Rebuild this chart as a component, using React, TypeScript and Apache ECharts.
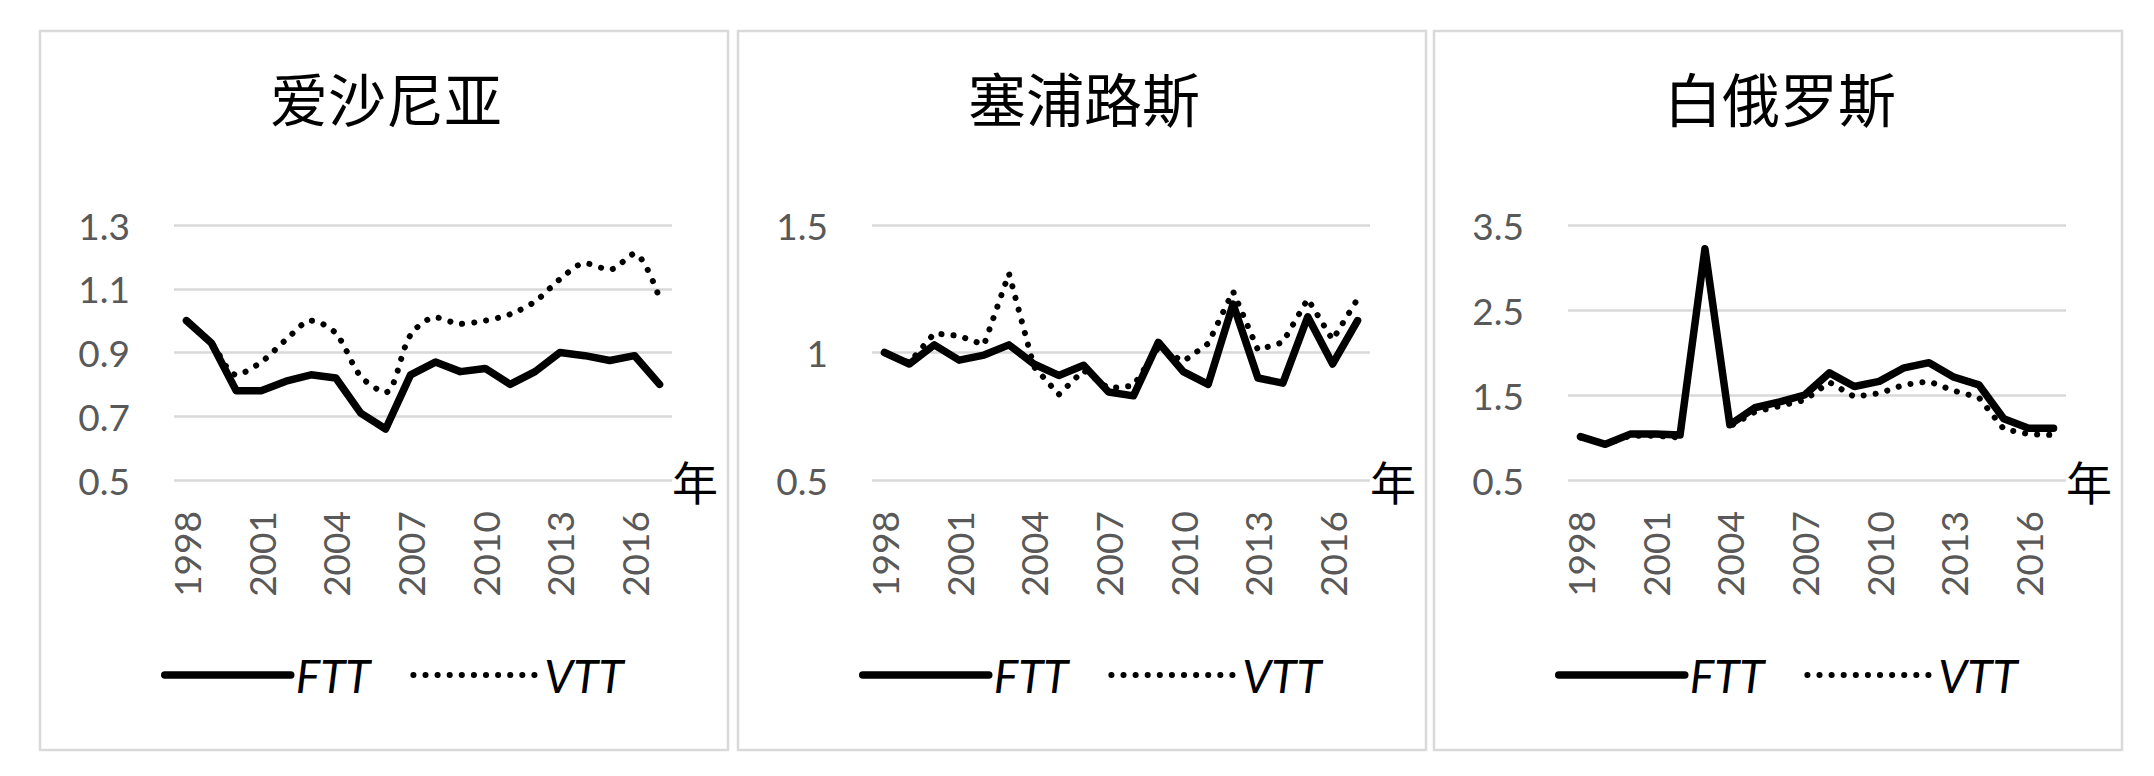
import React, { useEffect, useRef } from 'react';
import * as echarts from 'echarts';

// ---------- data ----------
const years = [
  '1998', '1999', '2000', '2001', '2002', '2003', '2004', '2005', '2006', '2007',
  '2008', '2009', '2010', '2011', '2012', '2013', '2014', '2015', '2016', '2017',
];
const seriesNames = ['FTT', 'VTT'];
const panelTitles = ['爱沙尼亚', '塞浦路斯', '白俄罗斯'];
const xAxisName = '年';

const estoniaFTT = [1.0, 0.93, 0.78, 0.78, 0.81, 0.83, 0.82, 0.71, 0.66, 0.83, 0.87, 0.84, 0.85, 0.8, 0.84, 0.9, 0.89, 0.875, 0.89, 0.8];
const estoniaVTT = [1.0, 0.93, 0.83, 0.87, 0.94, 1.0, 0.96, 0.825, 0.775, 0.955, 1.01, 0.99, 1.0, 1.02, 1.06, 1.13, 1.18, 1.16, 1.21, 1.07];

const cyprusFTT = [1.0, 0.955, 1.03, 0.97, 0.99, 1.03, 0.955, 0.91, 0.95, 0.845, 0.83, 1.04, 0.925, 0.875, 1.19, 0.9, 0.88, 1.14, 0.955, 1.125];
const cyprusVTT = [1.0, 0.96, 1.075, 1.065, 1.03, 1.31, 0.945, 0.835, 0.93, 0.86, 0.87, 1.02, 0.965, 1.035, 1.24, 1.01, 1.04, 1.21, 1.05, 1.21];

const belarusFTT = [1.01, 0.92, 1.04, 1.04, 1.03, 3.22, 1.15, 1.35, 1.42, 1.5, 1.76, 1.6, 1.66, 1.82, 1.88, 1.71, 1.62, 1.22, 1.11, 1.11];
const belarusVTT = [1.0, 0.92, 1.02, 1.02, 1.0, 3.2, 1.13, 1.3, 1.37, 1.44, 1.65, 1.48, 1.52, 1.62, 1.66, 1.55, 1.47, 1.1, 1.04, 1.03];

const estoniaTicks = [0.5, 0.7, 0.9, 1.1, 1.3];
const estoniaTickLabels = ['0.5', '0.7', '0.9', '1.1', '1.3'];
const cyprusTicks = [0.5, 1, 1.5];
const cyprusTickLabels = ['0.5', '1', '1.5'];
const belarusTicks = [0.5, 1.5, 2.5, 3.5];
const belarusTickLabels = ['0.5', '1.5', '2.5', '3.5'];

// ---------- layout / style ----------
const W = 2154;
const H = 776;
const panelLefts = [40, 738, 1434];
const panelWidth = 688;
const panelTop = 31;
const panelHeight = 719;
const gridOffsetLeft = 134;
const gridWidth = 498;
const gridTop = 225;
const gridHeight = 255;

const numFont = 'Lato, "Open Sans", sans-serif';
const cjkFont = '"Noto Sans CJK SC", sans-serif';
const gridColor = '#d9d9d9';
const labelColor = '#595959';

export default function App() {
  const ref = useRef<HTMLDivElement>(null);

  useEffect(() => {
    if (!ref.current) return;
    const chart = echarts.init(ref.current, undefined, { renderer: 'svg', width: W, height: H });

    const panels = [
      { title: panelTitles[0], ftt: estoniaFTT, vtt: estoniaVTT, ticks: estoniaTicks, labels: estoniaTickLabels, smoothV: 0.3 },
      { title: panelTitles[1], ftt: cyprusFTT, vtt: cyprusVTT, ticks: cyprusTicks, labels: cyprusTickLabels, smoothV: false as any },
      { title: panelTitles[2], ftt: belarusFTT, vtt: belarusVTT, ticks: belarusTicks, labels: belarusTickLabels, smoothV: false as any },
    ];

    const option: any = {
      animation: false,
      backgroundColor: '#ffffff',
      title: panels.map((p, i) => ({
        text: p.title,
        left: panelLefts[i] + 346,
        top: 68,
        textAlign: 'center',
        padding: 0,
        textStyle: { fontFamily: cjkFont, fontSize: 58, fontWeight: 'normal', color: '#000' },
      })),
      graphic: panelLefts.map((pl) => ({
        type: 'rect',
        shape: { x: pl, y: panelTop, width: panelWidth, height: panelHeight },
        style: { fill: 'none', stroke: gridColor, lineWidth: 2.5 },
        silent: true,
        z: -1,
      })),
      legend: panelLefts.map((pl) => ({
        data: seriesNames,
        left: pl + 121,
        top: 652,
        padding: 0,
        itemWidth: 126,
        itemHeight: 14,
        itemGap: 40,
        selectedMode: false,
        itemStyle: { opacity: 0 },
        lineStyle: { width: 'inherit', opacity: 1 },
        textStyle: { fontFamily: numFont, fontSize: 46, fontStyle: 'italic', color: '#000' },
      })),
      grid: panelLefts.map((pl) => ({
        left: pl + gridOffsetLeft,
        top: gridTop,
        width: gridWidth,
        height: gridHeight,
        containLabel: false,
      })),
      xAxis: panels.map((_, i) => ({
        type: 'category',
        gridIndex: i,
        data: years,
        boundaryGap: true,
        axisLine: { show: false },
        axisTick: { show: false },
        splitLine: { show: false },
        axisLabel: { interval: 2, rotate: 90, margin: 31, fontSize: 37, color: labelColor, fontFamily: numFont },
        name: xAxisName,
        nameLocation: 'end',
        nameGap: 0,
        nameTextStyle: { fontSize: 46, color: '#000', fontFamily: cjkFont, verticalAlign: 'middle', align: 'left' },
      })),
      yAxis: panels.map((p, i) => {
        const t = p.ticks;
        const step = +(t[1] - t[0]).toFixed(4);
        return {
          type: 'value',
          gridIndex: i,
          min: t[0],
          max: t[t.length - 1],
          interval: step,
          axisLine: { show: false },
          axisTick: { show: false },
          splitLine: { show: true, lineStyle: { color: gridColor, width: 2.5 } },
          axisLabel: {
            margin: 44,
            fontSize: 37,
            color: labelColor,
            fontFamily: numFont,
            formatter: (v: number) => {
              let best = 0;
              for (let k = 0; k < t.length; k++) {
                if (Math.abs(t[k] - v) < Math.abs(t[best] - v)) best = k;
              }
              return p.labels[best];
            },
          },
        };
      }),
      series: panels.flatMap((p, i) => [
        {
          name: seriesNames[1],
          type: 'line',
          xAxisIndex: i,
          yAxisIndex: i,
          data: p.vtt,
          symbol: 'none',
          smooth: p.smoothV,
          z: 2,
          itemStyle: { color: '#000' },
          lineStyle: { color: '#000', width: 6, type: [0.1, 12], cap: 'round', join: 'round' },
        },
        {
          name: seriesNames[0],
          type: 'line',
          xAxisIndex: i,
          yAxisIndex: i,
          data: p.ftt,
          symbol: 'none',
          z: 3,
          itemStyle: { color: '#000' },
          lineStyle: { color: '#000', width: 7.5, cap: 'round', join: 'round' },
        },
      ]),
    };

    chart.setOption(option);
    return () => chart.dispose();
  }, []);

  return (
    <div
      ref={ref}
      style={{ position: 'fixed', left: 0, top: 0, width: W, height: H, background: '#fff' }}
    />
  );
}
